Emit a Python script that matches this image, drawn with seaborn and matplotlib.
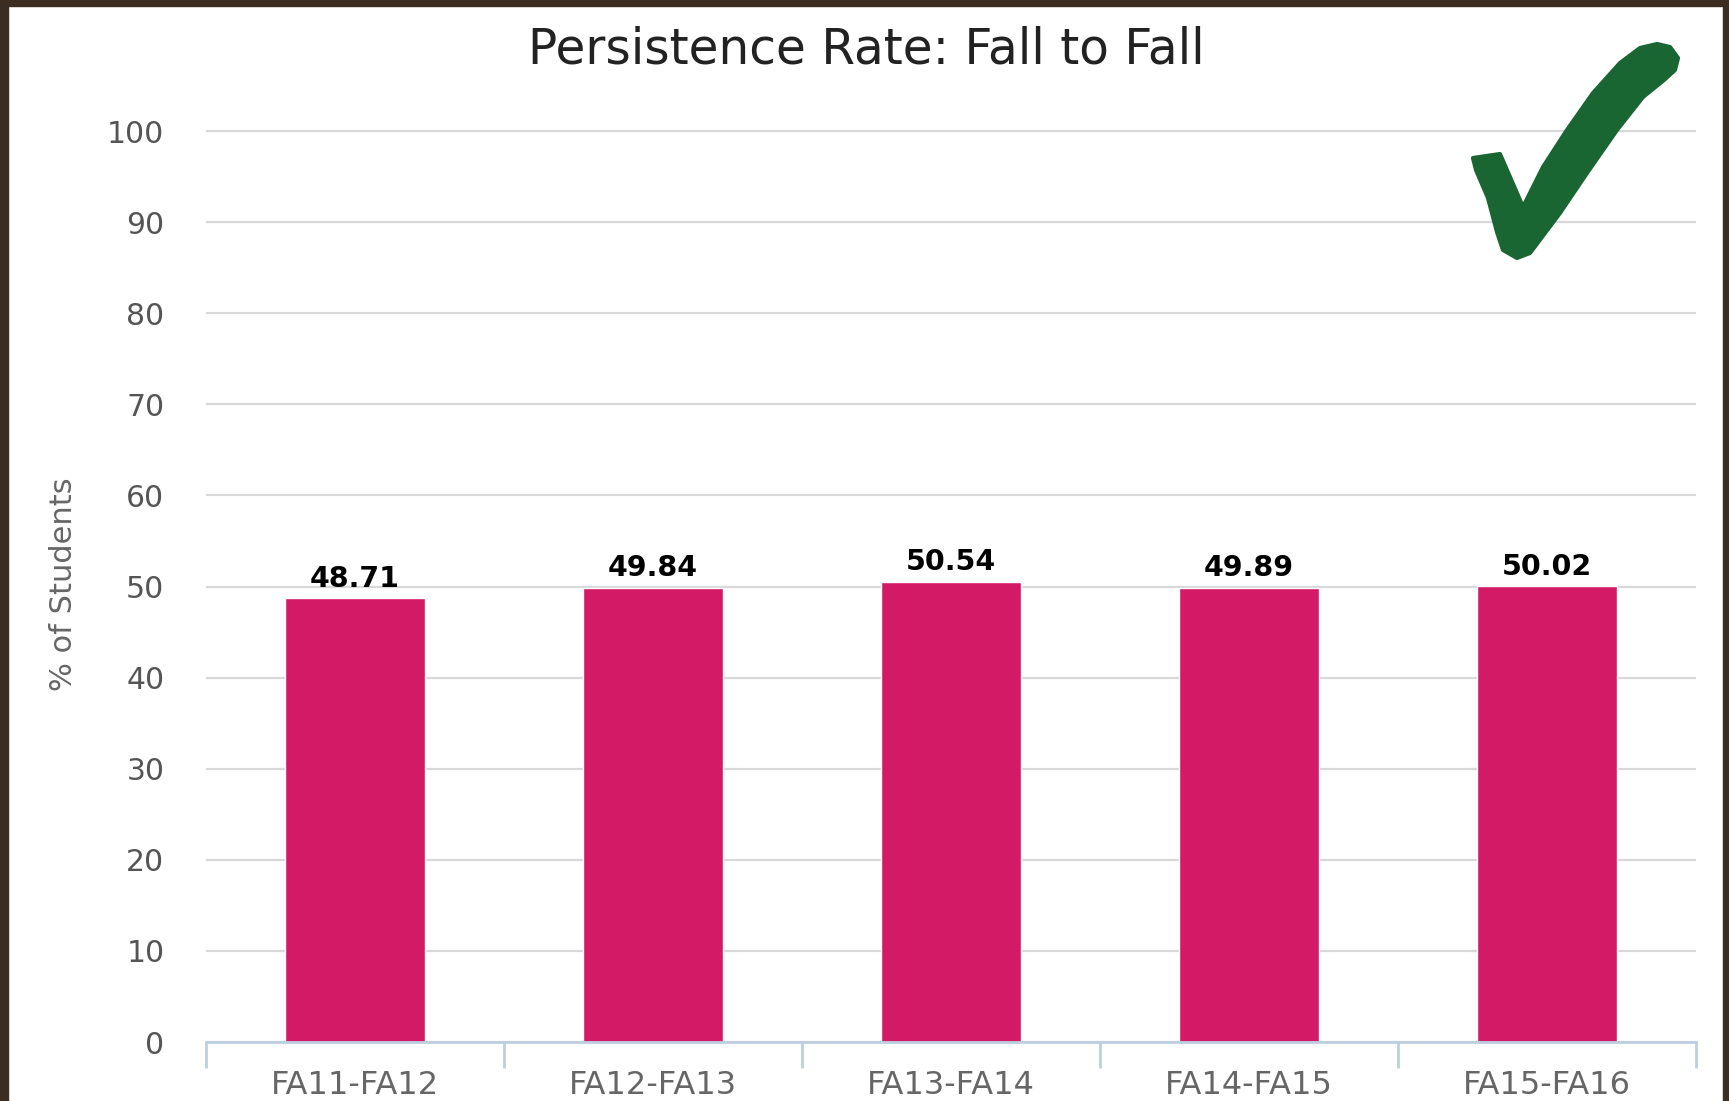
import matplotlib
matplotlib.use("Agg")
import matplotlib.pyplot as plt
from matplotlib.patches import Rectangle, Polygon
import seaborn as sns

sns.set_theme(style="white")
plt.rcParams['font.family'] = ['DejaVu Sans']

terms = ['FA11-FA12', 'FA12-FA13', 'FA13-FA14', 'FA14-FA15', 'FA15-FA16']
rates = [48.71, 49.84, 50.54, 49.89, 50.02]
yticks = [0, 10, 20, 30, 40, 50, 60, 70, 80, 90, 100]

W, H = 1729, 1101
fig = plt.figure(figsize=(W / 100, H / 100), dpi=100)
fig.patch.set_facecolor('white')

ax = fig.add_axes([206 / W, 1 - 1042 / H, 1490 / W, (1042 - 121.9) / H])
ax.set_axisbelow(True)

sns.barplot(x=terms, y=rates, color='#d31a67', saturation=1, width=0.47, ax=ax)

ax.set_ylim(0, 101)
ax.set_xlim(-0.5, 4.5)
ax.set_yticks(yticks)
ax.yaxis.grid(True, color='#d8d8d8', linewidth=1.6)
ax.xaxis.grid(False)
for s in ['top', 'right', 'left']:
    ax.spines[s].set_visible(False)
ax.spines['bottom'].set_color('#bccfe0')
ax.spines['bottom'].set_linewidth(2)

ax.tick_params(axis='y', length=0, pad=30, labelsize=21.5, labelcolor='#555555')
ax.tick_params(axis='x', which='major', length=0, pad=20, labelsize=23, labelcolor='#666666')
ax.set_xticks([i - 0.5 for i in range(len(terms) + 1)], minor=True)
ax.tick_params(axis='x', which='minor', length=19, width=2, color='#bccfe0', bottom=True)
ax.set_xlabel('')
ax.set_ylabel('')

for i, v in enumerate(rates):
    ax.text(i, v + 0.6, f'{v:.2f}', ha='center', va='bottom',
            fontsize=20.5, fontweight='bold', color='black')

fig.text(64 / W, 1 - 584 / H, '% of Students', rotation=90, ha='center', va='center',
         fontsize=22, color='#666666')
fig.text(866 / W, 1 - 50 / H, 'Persistence Rate: Fall to Fall', ha='center', va='center',
         fontsize=35, color='#222222')

# check mark
pts = [(1473, 158), (1500, 154), (1523, 207), (1543, 167), (1567, 130), (1593, 93),
       (1620, 63), (1640, 48), (1657, 44), (1670, 47), (1678, 58), (1675, 70),
       (1664, 80), (1643, 97), (1617, 130), (1587, 173), (1560, 213), (1530, 253),
       (1517, 258), (1503, 250), (1497, 232), (1488, 198), (1476, 170)]
fig.add_artist(Polygon([(x / W, 1 - y / H) for x, y in pts], closed=True,
                       facecolor='#1a6632', edgecolor='#1a6632', linewidth=3,
                       joinstyle='round', transform=fig.transFigure))

# dark frame
frame = '#3b2d22'
fig.add_artist(Rectangle((0, 0), 8 / W, 1, color=frame, transform=fig.transFigure))
fig.add_artist(Rectangle((0, 1 - 6 / H), 1, 6 / H, color=frame, transform=fig.transFigure))
fig.add_artist(Rectangle((1 - 6 / W, 0), 6 / W, 1, color=frame, transform=fig.transFigure))

fig.savefig('out.png', dpi=100)
